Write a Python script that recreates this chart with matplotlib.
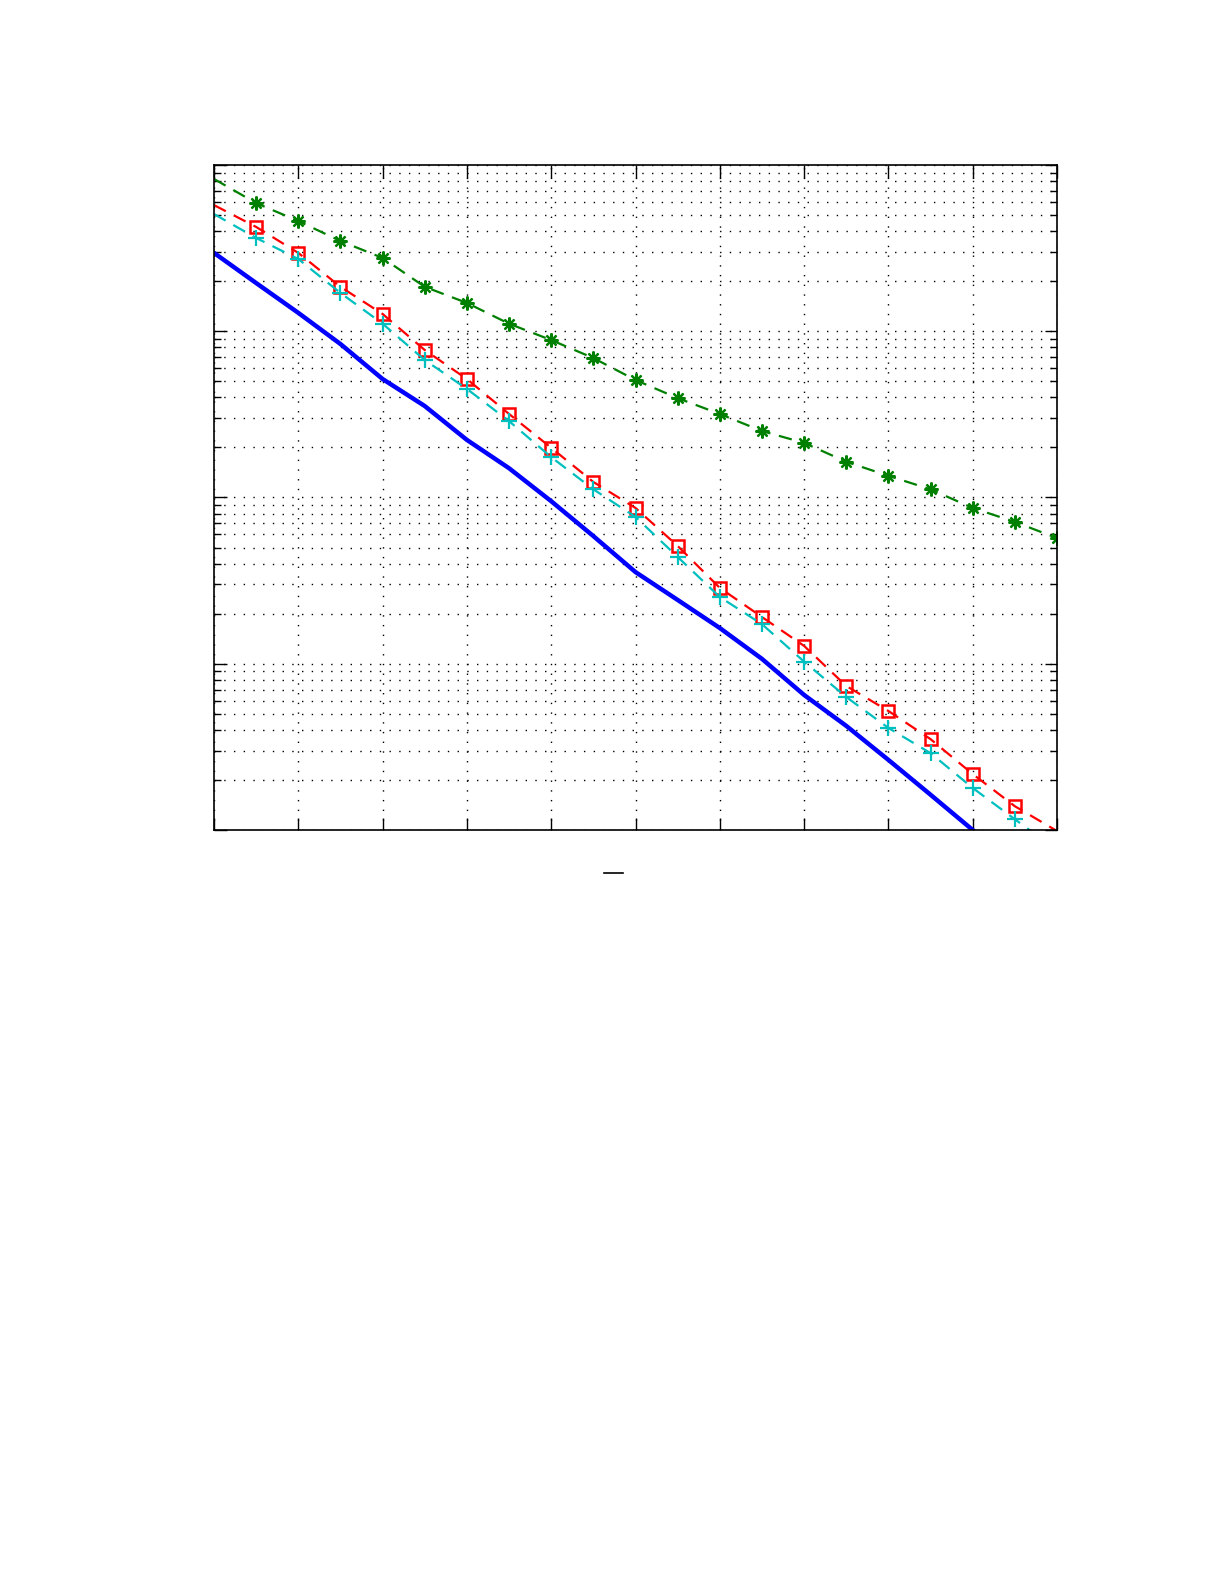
import matplotlib
matplotlib.use("Agg")
import matplotlib.pyplot as plt
from matplotlib.lines import Line2D
from matplotlib.ticker import LogLocator, NullFormatter, MultipleLocator

snr = list(range(0, 21))

ber_bound = [2.96e-2, 1.95e-2, 1.29e-2, 8.38e-3, 5.16e-3, 3.55e-3, 2.22e-3, 1.50e-3,
             9.5e-4, 5.86e-4, 3.56e-4, 2.42e-4, 1.64e-4, 1.07e-4, 6.49e-5, 4.23e-5,
             2.64e-5, 1.63e-5, 1.0e-5]
ber_square = [5.74e-2, 4.24e-2, 2.96e-2, 1.85e-2, 1.27e-2, 7.71e-3, 5.16e-3, 3.18e-3,
              1.99e-3, 1.24e-3, 8.65e-4, 5.11e-4, 2.86e-4, 1.91e-4, 1.28e-4, 7.35e-5,
              5.20e-5, 3.52e-5, 2.17e-5, 1.39e-5, 9.86e-6]
ber_plus = [5.07e-2, 3.64e-2, 2.72e-2, 1.70e-2, 1.11e-2, 6.71e-3, 4.50e-3, 2.88e-3,
            1.75e-3, 1.12e-3, 7.64e-4, 4.39e-4, 2.52e-4, 1.73e-4, 1.03e-4, 6.31e-5,
            4.11e-5, 2.90e-5, 1.79e-5, 1.16e-5, 7.59e-6]
ber_star = [8.24e-2, 5.90e-2, 4.60e-2, 3.49e-2, 2.76e-2, 1.85e-2, 1.48e-2, 1.11e-2,
            8.85e-3, 6.90e-3, 5.09e-3, 3.96e-3, 3.18e-3, 2.51e-3, 2.13e-3, 1.64e-3,
            1.35e-3, 1.12e-3, 8.65e-4, 7.13e-4, 5.70e-4]

fig = plt.figure(figsize=(12.25, 15.85), dpi=100)
ax = fig.add_axes([214/1225, 1-830/1585, (1057-214)/1225, (830-165)/1585])

ax.plot(snr[:len(ber_bound)], ber_bound, color=(0, 0, 1), lw=3.2, solid_joinstyle='round')
ax.plot(snr, ber_square, color=(1, 0, 0), lw=1.6, dashes=(6, 4), marker='s',
        markersize=8, markerfacecolor='none', markeredgewidth=1.8,
        markevery=slice(1, 20))
ax.plot(snr, ber_plus, color=(0, 0.75, 0.75), lw=1.6, dashes=(6, 4), marker='+',
        markersize=11, markeredgewidth=1.6, markevery=slice(1, 20))
ax.plot(snr, ber_star, color=(0, 0.5, 0), lw=1.6, dashes=(6, 4), marker=(8, 2, 0),
        markersize=10, markeredgewidth=1.6, markevery=slice(1, None))

ax.set_yscale('log')
ax.set_xlim(0, 20)
ax.set_ylim(1e-5, 1e-1)
ax.xaxis.set_major_locator(MultipleLocator(2))
ax.yaxis.set_major_locator(LogLocator(base=10, numticks=10))
ax.yaxis.set_minor_locator(LogLocator(base=10, subs=range(2, 10), numticks=100))
ax.xaxis.set_major_formatter(NullFormatter())
ax.yaxis.set_major_formatter(NullFormatter())
ax.yaxis.set_minor_formatter(NullFormatter())

ax.tick_params(which='both', direction='in', top=True, right=True, colors='k')
ax.tick_params(which='major', length=9, width=1)
ax.tick_params(which='minor', length=5, width=1)
ax.grid(True, which='major', axis='x', linestyle=(0, (1, 6)), color='k', lw=1)
ax.grid(True, which='both', axis='y', linestyle=(0, (1, 6)), color='k', lw=1)
for s in ax.spines.values():
    s.set_linewidth(1.2)

fig.add_artist(Line2D([604/1225, 623/1225], [1-873/1585, 1-873/1585],
                      color='k', lw=1.2, transform=fig.transFigure))

fig.savefig("out.png", dpi=100, facecolor='white')
